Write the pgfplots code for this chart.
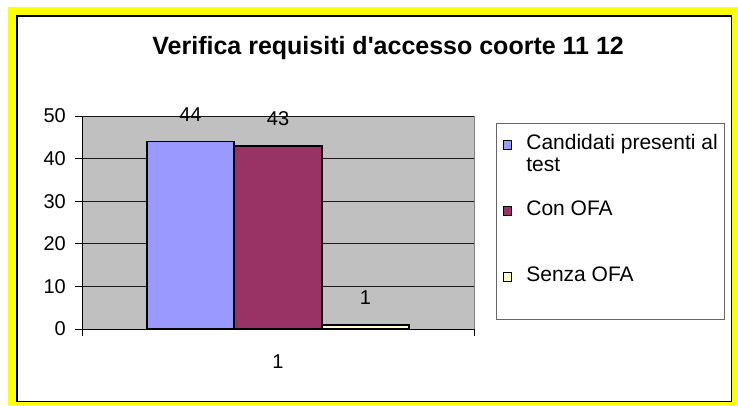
\documentclass[border=0pt]{standalone}
\usepackage{fontspec}
\setmainfont{Liberation Sans}
\usepackage{pgfplots}
\pgfplotsset{compat=1.18}
\definecolor{plotgray}{HTML}{C0C0C0}
\definecolor{barblue}{HTML}{9999FF}
\definecolor{barmaroon}{HTML}{993366}
\definecolor{barcream}{HTML}{FFFFCC}
\definecolor{frameyellow}{HTML}{FFFF00}
\begin{document}
\begin{tikzpicture}[x=1pt,y=1pt]
\fill[white] (0,0) rectangle (738,405);
\fill[frameyellow] (8,0) rectangle (738,398);
\draw[black, line width=1.5pt, fill=white] (17,3.5) rectangle (731.5,389);
\begin{axis}[
  at={(82pt,76pt)}, anchor=south west,
  scale only axis, width=392pt, height=213pt,
  xmin=-1, xmax=1, ymin=0, ymax=50,
  ybar=0pt, bar width=87.5pt,
  clip=false,
  /pgf/number format/assume math mode=true,
  axis background/.style={fill=plotgray, draw=gray},
  axis x line*=bottom, axis y line*=left,
  axis line style={black, line width=0.8pt, -},
  ytick={0,10,20,30,40,50},
  ymajorgrids, grid style={black!90, line width=0.8pt},
  tick align=outside, major tick length=7pt,
  tick style={black, line width=0.8pt},
  xtick={-1,1}, xticklabels={},
  extra x ticks={0}, extra x tick labels={1},
  extra x tick style={major tick length=0pt, xticklabel style={yshift=-26pt}},
  ticklabel style={font=\fontsize{20}{22}\selectfont, inner sep=0pt},
  yticklabel style={xshift=-9pt},
  every axis title shift=0pt,
  title={Verifica requisiti d\textquotesingle accesso coorte 11 12},
  title style={at={(axis description cs:0.781,1.291)}, anchor=base, font=\fontsize{25}{28}\selectfont\bfseries, inner sep=0pt},
  nodes near coords,
  point meta=y,
  every node near coord/.append style={font=\fontsize{20}{22}\selectfont, anchor=south, inner sep=0pt, yshift=19pt, black},
  legend style={at={(axis description cs:1.056,0.967)}, anchor=north west, draw=black!60, line width=0.8pt, fill=white,
    inner xsep=7pt, inner ysep=11pt, nodes={inner sep=0pt, text depth=}, cells={anchor=base west}, column sep=14pt, row sep=0pt,
    font=\fontsize{21}{22}\selectfont},
  legend image code/.code={\draw[#1,/tikz/.cd,line width=1pt] (0pt,0pt) rectangle (8pt,9pt);},
]
\addplot[fill=barblue, draw=black, line width=1.6pt] coordinates {(0,44)};
\addlegendentry{\parbox[t][66pt][t]{191pt}{\strut\mbox{Candidati presenti al}\\test}}
\addplot[fill=barmaroon, draw=black, line width=1.6pt] coordinates {(0,43)};
\addlegendentry{\parbox[t][66pt][t]{191pt}{\strut Con OFA}}
\addplot[fill=barcream, draw=black, line width=1.6pt] coordinates {(0,1)};
\addlegendentry{\parbox[t][42pt][t]{191pt}{\strut Senza OFA}}
\end{axis}
\end{tikzpicture}
\end{document}
